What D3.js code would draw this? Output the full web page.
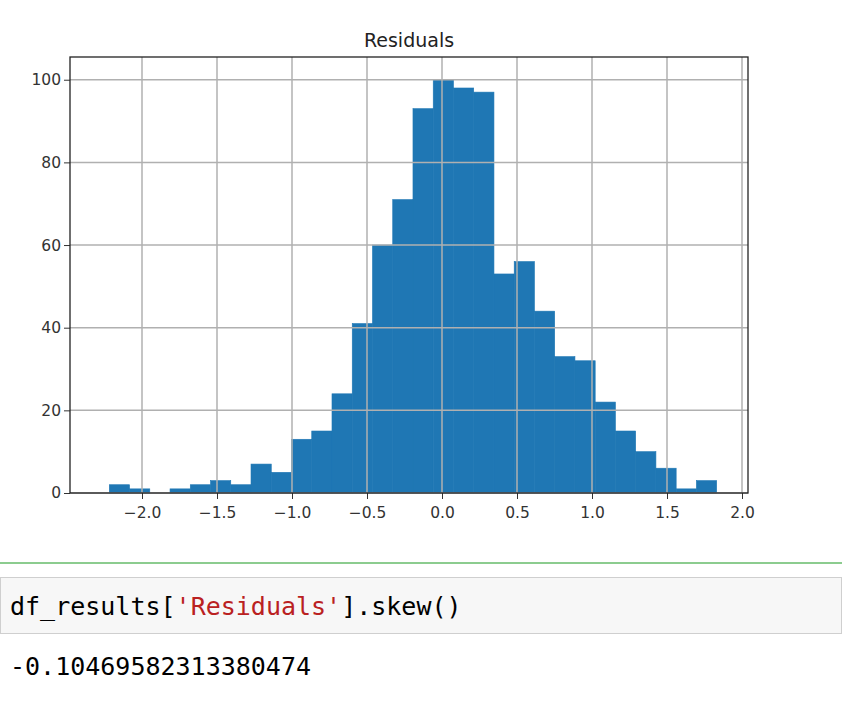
<!DOCTYPE html>
<html><head><meta charset="utf-8">
<script src="https://cdn.jsdelivr.net/npm/d3@7"></script>
<style>
body{margin:0;background:#fff;}
svg text{font-family:"DejaVu Sans",sans-serif;}
svg text.mono{font-family:"DejaVu Sans Mono",monospace;}
</style></head>
<body><svg id="chart" width="842" height="716"></svg>
<script>
// Histogram bins (30 equal bins) and counts
var binStart = -2.218, binEnd = 1.831, nBins = 30;
var counts = [2,1,0,1,2,3,2,7,5,13,15,24,41,60,71,93,100,98,97,53,56,44,33,32,22,15,10,6,1,3];
var xTicks = [-2.0,-1.5,-1.0,-0.5,0.0,0.5,1.0,1.5,2.0];
var yTicks = [0,20,40,60,80,100];

var margin = {left:70, right:94, top:57, bottom:223},
  width = 842 - margin.left - margin.right,
  height = 716 - margin.top - margin.bottom;
var svg = d3.select("#chart");
var binW = (binEnd - binStart) / nBins;

var xScale = d3.scaleLinear().domain([-2.48, 2.04]).range([0, width]);
var yScale = d3.scaleLinear().domain([0, 105.5]).range([height, 0]);

var chart = svg.append("g").attr("transform", `translate(${margin.left},${margin.top})`);

// Bars
chart.selectAll("rect.bar").data(counts).enter().append("rect")
  .attr("class","bar")
  .attr("x", (d,i) => xScale(binStart + i*binW))
  .attr("width", (d,i) => xScale(binStart + (i+1)*binW) - xScale(binStart + i*binW))
  .attr("y", d => yScale(d))
  .attr("height", d => height - yScale(d))
  .attr("fill", "#1f77b4")
  .attr("stroke", "#1f77b4").attr("stroke-width", 0.6);

// Grid (drawn over bars like pandas hist)
chart.selectAll("line.gx").data(xTicks).enter().append("line")
  .attr("x1", d => xScale(d)).attr("x2", d => xScale(d))
  .attr("y1", 0).attr("y2", height)
  .attr("stroke", "#b0b0b0").attr("stroke-width", 1.5);
chart.selectAll("line.gy").data(yTicks).enter().append("line")
  .attr("y1", d => yScale(d)).attr("y2", d => yScale(d))
  .attr("x1", 0).attr("x2", width)
  .attr("stroke", "#b0b0b0").attr("stroke-width", 1.5);

// Axes
var xAxis = chart.append("g").attr("transform", `translate(0,${height})`)
  .call(d3.axisBottom(xScale).tickValues(xTicks).tickSize(6).tickFormat(d => d3.format(".1f")(d).replace("-","\u2212")));
var yAxis = chart.append("g")
  .call(d3.axisLeft(yScale).tickValues(yTicks).tickSize(6).tickFormat(d3.format("d")));
[xAxis, yAxis].forEach(function(a){
  a.select(".domain").remove();
  a.selectAll("line").attr("stroke","#333");
  a.selectAll("text").attr("font-size", 15.5).attr("fill","#333");
});
xAxis.selectAll("text").attr("dy","1.0em");

// Frame
chart.append("rect").attr("width", width).attr("height", height)
  .attr("fill","none").attr("stroke","#222").attr("stroke-width",1.3);

// Title
svg.append("text").attr("x", margin.left + width/2).attr("y", 47)
  .attr("text-anchor","middle").attr("font-size",19).attr("fill","#222").text("Residuals");

// Notebook cell below
svg.append("line").attr("x1",0).attr("x2",842).attr("y1",563).attr("y2",563)
  .attr("stroke","#66bb6a").attr("stroke-width",1.5);
svg.append("rect").attr("x",0.5).attr("y",577.5).attr("width",841).attr("height",56)
  .attr("fill","#f7f7f7").attr("stroke","#cfcfcf");
var code = svg.append("text").attr("class","mono").attr("x",10).attr("y",615)
  .attr("font-size",25).attr("fill","#000");
code.append("tspan").text("df_results[");
code.append("tspan").attr("fill","#ba2121").text("'Residuals'");
code.append("tspan").text("].skew()");
svg.append("text").attr("class","mono").attr("x",10).attr("y",675)
  .attr("font-size",25).attr("fill","#000")
  .text("-0.10469582313380474");
</script></body></html>
